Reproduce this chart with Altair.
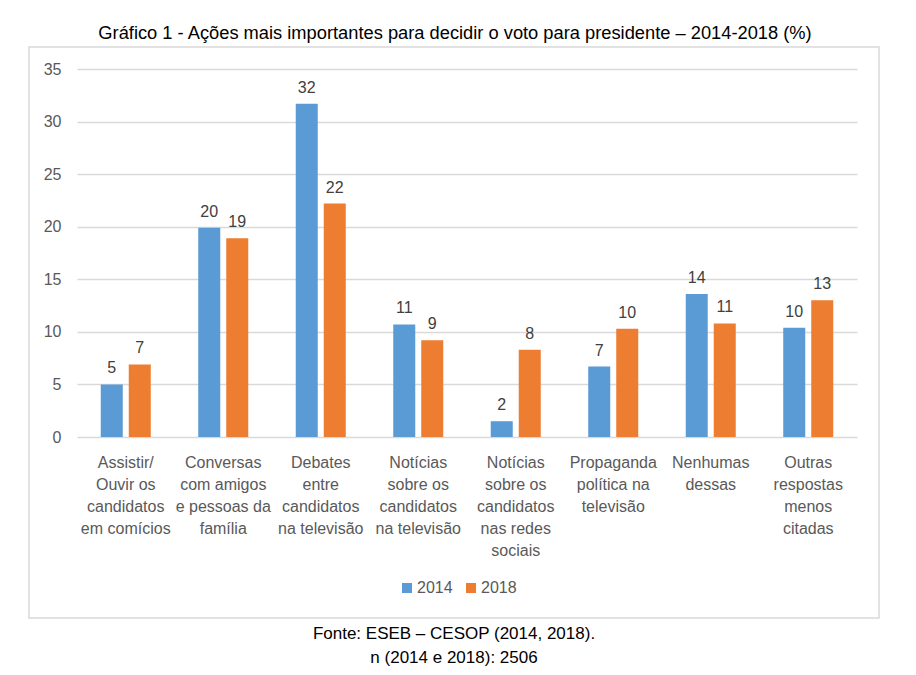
import altair as alt
import pandas as pd

title_text = "Gráfico 1 - Ações mais importantes para decidir o voto para presidente – 2014-2018 (%)"
footer_text = "Fonte: ESEB – CESOP (2014, 2018).\nn (2014 e 2018): 2506"

categories = [
    "Assistir/\nOuvir os\ncandidatos\nem comícios",
    "Conversas\ncom amigos\ne pessoas da\nfamília",
    "Debates\nentre\ncandidatos\nna televisão",
    "Notícias\nsobre os\ncandidatos\nna televisão",
    "Notícias\nsobre os\ncandidatos\nnas redes\nsociais",
    "Propaganda\npolítica na\ntelevisão",
    "Nenhumas\ndessas",
    "Outras\nrespostas\nmenos\ncitadas",
]
years = ["2014", "2018"]
values_2014 = [5.0, 19.9, 31.7, 10.7, 1.5, 6.7, 13.6, 10.4]
values_2018 = [6.9, 18.9, 22.2, 9.2, 8.3, 10.3, 10.8, 13.0]
labels_2014 = ["5", "20", "32", "11", "2", "7", "14", "10"]
labels_2018 = ["7", "19", "22", "9", "8", "10", "11", "13"]
y_ticks = [0, 5, 10, 15, 20, 25, 30, 35]
colors = ["#5B9BD5", "#ED7D31"]

rows = []
for c, v, l in zip(categories, values_2014, labels_2014):
    rows.append({"cat": c, "year": "2014", "value": v, "label": l})
for c, v, l in zip(categories, values_2018, labels_2018):
    rows.append({"cat": c, "year": "2018", "value": v, "label": l})
df = pd.DataFrame(rows)

FONT = "Liberation Sans"

x_enc = alt.X(
    "cat:N",
    sort=categories,
    scale=alt.Scale(paddingInner=0.487, paddingOuter=0.2436),
    axis=alt.Axis(
        title=None, labelAngle=0, domain=False, ticks=False,
        labelExpr="split(datum.label, '\\n')", labelLineHeight=22,
        labelFontSize=16, labelColor="#595959", labelFont=FONT,
        labelPadding=17, labelLimit=200, labelBaseline="top",
    ),
)
xoff_enc = alt.XOffset("year:N", sort=years,
                       scale=alt.Scale(paddingInner=0.214, paddingOuter=0))
y_enc = alt.Y(
    "value:Q",
    scale=alt.Scale(domain=[0, 35], nice=False),
    axis=alt.Axis(
        title=None, values=y_ticks, domain=False, ticks=False,
        grid=True, gridColor="#d9d9d9", gridWidth=1.3,
        labelFontSize=16, labelColor="#595959", labelFont=FONT,
        labelPadding=16,
    ),
)
color_enc = alt.Color(
    "year:N",
    sort=years,
    scale=alt.Scale(domain=years, range=colors),
    legend=alt.Legend(
        title=None, orient="none", legendX=322, legendY=511,
        direction="horizontal", symbolType="square", symbolSize=100,
        symbolStrokeWidth=0, labelFontSize=16, labelColor="#595959",
        labelFont=FONT, columnPadding=10, labelOffset=2, padding=0,
    ),
)

frame = alt.Chart(pd.DataFrame({"k": [0]})).mark_rect(
    fill="transparent", stroke="#d9d9d9", strokeWidth=1.5
).encode(
    x=alt.value(-48), x2=alt.value(802), y=alt.value(-22), y2=alt.value(549)
)

bars = alt.Chart(df).mark_bar().encode(
    x=x_enc, xOffset=xoff_enc, y=y_enc, color=color_enc
)

texts = alt.Chart(df).mark_text(
    baseline="alphabetic", dy=-11, fontSize=16, color="#404040", font=FONT
).encode(
    x=alt.X("cat:N", sort=categories), xOffset=alt.XOffset("year:N", sort=years),
    y="value:Q", text="label:N"
)

footer = alt.Chart(pd.DataFrame({"t": [footer_text]})).mark_text(
    baseline="top", align="center", fontSize=17, color="black", font=FONT,
    lineBreak="\n", lineHeight=24
).encode(x=alt.value(377), y=alt.value(557), text="t:N")

chart = alt.layer(frame, bars, texts, footer).properties(
    width=780,
    height=368,
    padding={"left": 69, "top": 61, "right": 40, "bottom": 230},
    autosize=alt.AutoSizeParams(type="none"),
    title=alt.TitleParams(
        text=title_text, fontSize=18.3, font=FONT, fontWeight="normal",
        color="black", anchor="middle", offset=3, dx=-12,
    ),
).configure_view(stroke=None)

chart.save("out.html", embed_options={"renderer": "svg", "actions": False})
